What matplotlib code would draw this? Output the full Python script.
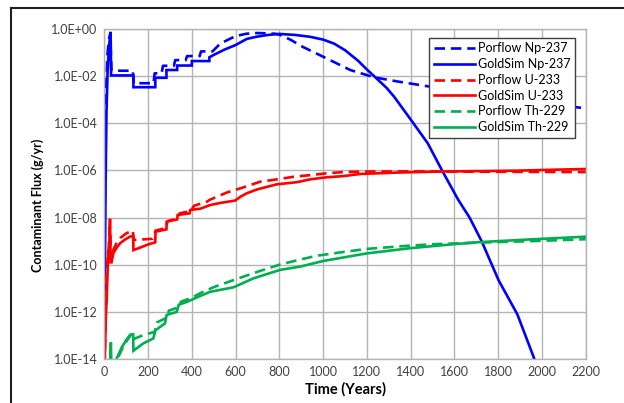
import numpy as np
import matplotlib
matplotlib.use("Agg")
import matplotlib.pyplot as plt
from matplotlib.lines import Line2D

# log10 of contaminant flux (g/yr) versus time (years)
np_gs_t = [0, 3, 6, 10, 15, 22, 29, 31, 133, 133, 233, 233, 284, 284, 333, 333,
           400, 400, 480, 480, 500, 550, 600, 651, 700, 750, 800, 870, 940, 1000,
           1050, 1100, 1160, 1200, 1243, 1290, 1324, 1396, 1478, 1542, 1618, 1669,
           1725, 1801, 1887, 1961, 1980]
np_gs_log = [-15, -10, -6.5, -3.5, -1.8, -0.7, -0.12, -1.97, -1.97, -2.47, -2.47,
             -2.07, -2.07, -1.74, -1.74, -1.55, -1.55, -1.36, -1.36, -1.2, -1.1,
             -0.87, -0.68, -0.42, -0.32, -0.25, -0.21, -0.25, -0.33, -0.45, -0.62,
             -0.9, -1.35, -1.72, -2.09, -2.5, -2.87, -3.79, -4.85, -5.98, -7.26,
             -8.0, -9.02, -10.65, -12.1, -13.9, -14.4]

np_pf_t = [0, 2, 4, 8, 15, 22, 27, 30, 33, 130, 135, 225, 230, 262, 268, 318, 324,
           372, 378, 436, 442, 495, 505, 530, 560, 600, 650, 700, 780, 800, 850, 905,
           1014, 1124, 1233, 1342, 1505, 1800, 2000, 2200]
np_pf_log = [-15, -8, -4.5, -2.5, -1.0, -0.4, -0.2, -1.0, -1.77, -1.77, -2.3, -2.3,
             -1.88, -1.88, -1.56, -1.56, -1.32, -1.32, -1.15, -1.15, -0.95, -0.95,
             -0.85, -0.62, -0.48, -0.3, -0.2, -0.17, -0.2, -0.24, -0.45, -0.75,
             -1.24, -1.74, -2.05, -2.23, -2.47, -2.87, -3.13, -3.37]

u_gs_t = [0, 5, 8, 11, 15, 18, 22, 26, 29, 33, 41, 55, 72, 95, 117, 132, 133, 165,
          194, 233, 234, 284, 285, 333, 335, 390, 392, 440, 483, 529, 597, 625, 651,
          700, 788, 879, 940, 1017, 1093, 1169, 1342, 1523, 1700, 1887, 2050, 2200]
u_gs_log = [-15, -13, -12, -11.5, -10.3, -9.4, -9.5, -8.05, -9.9, -9.9, -9.52, -9.3,
            -9.09, -8.93, -8.81, -8.78, -9.38, -9.27, -9.16, -9.05, -8.6, -8.5,
            -8.17, -8.08, -7.89, -7.82, -7.68, -7.62, -7.47, -7.38, -7.28, -7.1,
            -6.97, -6.8, -6.59, -6.5, -6.38, -6.29, -6.24, -6.15, -6.09, -6.05,
            -6.03, -6.01, -5.97, -5.94]

u_pf_t = [0, 6, 10, 15, 20, 25, 28, 31, 40, 55, 75, 100, 130, 135, 220, 235, 280,
          290, 330, 345, 395, 410, 470, 481, 559, 635, 712, 788, 864, 940, 1017,
          1093, 1169, 1400, 1600, 1900, 2200]
u_pf_log = [-15, -12, -10.5, -9.8, -9.3, -8.4, -8.8, -9.8, -9.4, -9.1, -8.85, -8.67,
            -8.55, -8.95, -8.9, -8.55, -8.45, -8.15, -8.05, -7.82, -7.72, -7.5,
            -7.32, -7.25, -6.94, -6.72, -6.48, -6.38, -6.27, -6.2, -6.12, -6.07,
            -6.05, -6.04, -6.05, -6.06, -6.07]

th_gs_t = [0, 24, 30, 34, 50, 57, 80, 100, 117, 132, 133, 178, 224, 234, 277, 285,
           331, 340, 379, 430, 483, 590, 681, 803, 895, 1001, 1199, 1397, 1596,
           1717, 1961, 2200]
th_gs_log = [-16, -15, -13.3, -15, -15, -13.97, -13.5, -13.2, -12.98, -12.95,
             -13.65, -13.34, -13.13, -12.78, -12.49, -12.13, -12.0, -11.7, -11.57,
             -11.36, -11.15, -10.96, -10.58, -10.22, -10.08, -9.84, -9.52, -9.3,
             -9.13, -9.04, -8.92, -8.81]

th_pf_t = [0, 55, 65, 90, 120, 130, 135, 180, 230, 240, 285, 295, 340, 350, 400,
           440, 500, 600, 700, 800, 895, 971, 1100, 1199, 1350, 1504, 1717, 1950,
           2200]
th_pf_log = [-16, -14.5, -13.9, -13.4, -13.0, -12.9, -13.15, -12.98, -12.85, -12.45,
             -12.25, -11.95, -11.8, -11.57, -11.4, -11.2, -10.95, -10.62, -10.3,
             -10.0, -9.78, -9.62, -9.45, -9.33, -9.22, -9.13, -9.06, -9.0, -8.92]

series = [
    ("Porflow Np-237", np_pf_t, np_pf_log, "#0000ff", "--"),
    ("GoldSim Np-237", np_gs_t, np_gs_log, "#0000ff", "-"),
    ("Porflow U-233", u_pf_t, u_pf_log, "#ff0000", "--"),
    ("GoldSim U-233", u_gs_t, u_gs_log, "#ff0000", "-"),
    ("Porflow Th-229", th_pf_t, th_pf_log, "#00b050", "--"),
    ("GoldSim Th-229", th_gs_t, th_gs_log, "#00b050", "-"),
]

plt.rcParams["font.family"] = ["Lato", "DejaVu Sans"]

fig = plt.figure(figsize=(6.24, 4.03), dpi=100)
ax = fig.add_axes([104.3 / 624, 1 - 359 / 403, (585.8 - 104.3) / 624, 330 / 403])

for label, t, lg, color, ls in series:
    flux = 10.0 ** np.array(lg)
    line, = ax.plot(t, flux, color=color, lw=1.9, label=label, solid_joinstyle="miter")
    if ls == "--":
        line.set_dashes((4, 2.2))

ax.set_yscale("log")
ax.set_xlim(0, 2200)
ax.set_ylim(1e-14, 1.0)
ax.set_xticks(np.arange(0, 2201, 200))
ax.set_yticks([10.0 ** e for e in range(-14, 1, 2)])
ax.yaxis.set_minor_locator(matplotlib.ticker.NullLocator())
ax.set_yticklabels(["1.0E-14", "1.0E-12", "1.0E-10", "1.0E-08", "1.0E-06",
                    "1.0E-04", "1.0E-02", "1.0E+00"])
ax.tick_params(length=0, labelsize=9, colors="#404040", pad=5)
ax.grid(True, color="#b4b4b4", lw=1)
for s in ax.spines.values():
    s.set_color("#b4b4b4")
    s.set_linewidth(1)

ax.set_xlabel("Time (Years)", fontsize=10.5, fontweight="bold", labelpad=3)
fig.text(38 / 624, 1 - 205 / 403, "Contaminant Flux (g/yr)", rotation=90,
         fontsize=9, fontweight="bold", ha="center", va="center")

leg = ax.legend(loc="upper right", bbox_to_anchor=(575 / 624, 1 - 38 / 403),
                bbox_transform=fig.transFigure, borderaxespad=0, fontsize=9,
                handlelength=3.3, labelspacing=0.3, handletextpad=0.25,
                borderpad=0.35, fancybox=False, framealpha=1, edgecolor="#404040")
leg.get_frame().set_linewidth(1)

# outer chart frame
fig.add_artist(Line2D([11 / 624, 1], [1 - 7.5 / 403] * 2, color="#202020", lw=1.5))
fig.add_artist(Line2D([11 / 624] * 2, [0, 1 - 7.5 / 403], color="#202020", lw=1.5))

fig.savefig("out.png", dpi=100)
